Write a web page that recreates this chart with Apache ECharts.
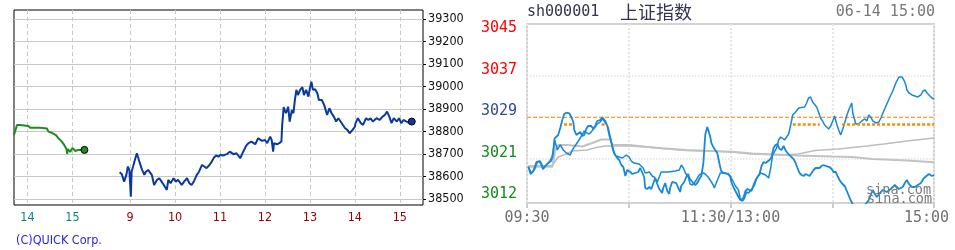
<!DOCTYPE html>
<html><head><meta charset="utf-8">
<script src="https://cdn.jsdelivr.net/npm/echarts@6.0.0/dist/echarts.min.js"></script>
<style>html,body{margin:0;padding:0;background:#fff}#c{width:955px;height:250px}</style>
</head><body><div id="c"></div><script>
// ---------- LEFT CHART (QUICK) ----------
// previous-day session (clock minutes since midnight) and index values
const leftPrevTimes = [822,826,830,841,844,857,866,868,873,878,881,885,889,892,893,894,897,900,904,908,910,916];
const leftPrevValues = [38784,38829,38829,38824,38816,38816,38813,38799,38793,38784,38771,38758,38740,38722,38700,38722,38709,38727,38713,38718,38722,38718];
// current-day session
const leftDayTimes = [526,529,532,535,537,539,541,542,544,547,549,551,553,556,559,561,564,569,572,576,579,582,585,589,591,594,598,601,604,609,612,616,619,622,625,629,632,636,639,642,646,649,652,655,658,661,664,669,673,678,682,687,691,695,698,702,707,711,716,720,723,727,729,731,732,736,739,742,743,744,745,748,751,753,756,758,760,762,764,767,770,772,775,778,780,782,784,787,790,792,796,799,801,803,806,809,812,815,818,821,824,827,830,833,837,840,841,844,848,851,855,858,861,864,869,873,877,880,883,886,889,892,896,899,902,905,909,912,916];
const leftDayValues = [38619,38610,38577,38607,38644,38629,38510,38621,38644,38681,38703,38681,38659,38629,38607,38621,38629,38607,38562,38585,38592,38577,38562,38540,38585,38570,38592,38577,38585,38562,38577,38592,38570,38562,38577,38607,38621,38651,38644,38637,38651,38666,38684,38693,38688,38696,38693,38699,38710,38699,38703,38681,38710,38737,38748,38755,38743,38770,38758,38762,38748,38777,38762,38710,38748,38743,38748,38755,38829,38866,38908,38881,38910,38844,38896,38881,38940,38985,38962,38985,38997,38962,38985,38955,38992,39021,38985,38988,38970,38940,38940,38918,38896,38873,38903,38881,38866,38844,38859,38844,38829,38814,38807,38792,38807,38821,38837,38859,38837,38829,38859,38851,38859,38844,38859,38851,38866,38873,38888,38866,38837,38859,38844,38859,38837,38851,38844,38839,38844];
const leftTickTimes = [840,900,540,600,660,720,780,840,900];
const leftTickDays = [-1,-1,0,0,0,0,0,0,0];
const leftTickLabels = ['14','15','9','10','11','12','13','14','15'];
const leftYTicks = [38500,38600,38700,38800,38900,39000,39100,39200,39300];

// ---------- RIGHT CHART (sina, sh000001) ----------
// minutes since 09:30 on the trading clock (0..240)
const prevClose = 3029;
const rightL1Times = [0.8,2.5,3.7,5.5,7.8,9.6,11.8,14.3,15.1,16.3,17.9,19.6,21.4,23.2,25.5,26.7,29.1,31.4,33.8,34.9,36.1,37.3,39.7,41.4,43.1,44.4,45.6,46.7,47.9,49.1,50.3,51.4,52.6,54.4,56.2,58.5,60.3,61.5,63.2,66.1,68.5,69.7,72.1,73.8,75.0,76.8,78.0,79.1,83.3,87.4,89.8,91.0,92.2,93.4,95.1,96.2,97.4,98.6,99.8,101.5,103.9,105.1,106.8,108.0,109.8,110.4,111.6,112.8,114.0,116.9,118.7,119.9,121.7,122.9,124.7,125.9,127.1,128.3,129.5,130.7,133.0,134.2,135.4,137.8,138.9,140.7,142.5,143.7,144.8,147.2,148.4,149.6,150.7,151.9,153.1,154.3,155.5,156.7,158.4,160.2,163.7,164.9,166.0,167.2,168.4,170.8,171.9,173.1,174.3,175.5,176.7,177.9,179.1,180.3,181.4,182.6,183.8,185.0,186.8,188.5,189.7,191.5,192.1,193.9,195.6,197.4,199.2,200.4,201.5,202.7,203.9,205.7,207.5,208.7,210.4,212.2,214.0,215.7,217.5,219.3,221.1,222.2,223.4,224.0,225.2,227.0,230.5,232.3,233.5,234.7,235.9,237.6,238.8,240];
const rightL1Values = [3019.36,3018.13,3018.52,3020.28,3020.47,3019.11,3019.83,3020.47,3021.31,3024.57,3022.62,3023.60,3022.62,3022.03,3021.64,3022.62,3023.79,3024.96,3026.33,3026.33,3025.74,3025.94,3026.91,3027.69,3028.08,3028.67,3028.28,3027.69,3026.91,3025.16,3023.21,3021.84,3021.45,3021.25,3021.06,3021.64,3021.25,3020.47,3020.08,3019.89,3019.11,3018.13,3018.33,3017.55,3017.35,3016.38,3017.35,3018.33,3018.33,3018.52,3018.72,3019.69,3019.11,3018.13,3017.35,3015.99,3015.79,3016.18,3016.77,3017.74,3018.13,3017.94,3017.35,3016.77,3015.79,3015.21,3016.18,3017.16,3018.13,3018.13,3017.94,3017.55,3016.38,3015.60,3014.82,3012.87,3012.67,3013.26,3014.43,3014.23,3015.21,3015.79,3017.16,3018.13,3017.74,3017.74,3017.16,3019.11,3021.64,3023.01,3024.57,3025.16,3024.96,3024.57,3025.16,3025.74,3027.50,3029.45,3030.03,3030.81,3031.01,3031.79,3032.77,3032.96,3031.99,3031.01,3030.03,3028.86,3028.28,3027.50,3027.11,3026.72,3027.30,3028.28,3029.25,3027.69,3026.52,3025.55,3027.30,3029.25,3030.42,3031.79,3029.84,3027.69,3027.69,3028.28,3028.67,3028.28,3029.45,3029.06,3028.28,3027.89,3028.08,3028.86,3030.23,3031.59,3032.96,3034.13,3035.69,3036.86,3036.86,3036.28,3035.30,3034.33,3033.74,3033.35,3032.96,3033.35,3034.13,3034.33,3033.74,3033.16,3032.77,3032.57];
const rightL2Times = [0.8,2.1,3.5,4.7,6.1,7.4,8.6,9.4,10.6,12.0,13.3,14.5,15.3,16.3,17.3,18.4,19.6,20.8,22.0,23.2,24.9,26.1,27.3,27.9,29.1,30.2,31.4,32.6,33.8,34.9,36.1,37.9,39.1,40.2,41.4,43.2,44.4,46.2,47.4,48.5,49.7,50.9,52.0,53.2,54.4,55.6,56.8,58.0,59.1,60.9,62.1,63.8,65.6,66.8,67.9,69.1,69.7,70.9,72.1,73.3,74.4,75.6,76.8,78.0,79.1,79.7,80.3,81.5,82.1,82.7,83.9,84.4,85.6,88.0,89.2,90.3,90.9,92.7,93.9,95.1,95.7,98.0,99.2,100.4,101.6,102.8,104.0,105.1,106.3,106.9,108.1,108.7,109.8,111.0,112.2,113.4,114.5,115.7,118.7,119.9,120.5,121.7,122.9,124.7,125.9,127.6,128.8,130.0,131.2,132.4,133.6,134.8,135.9,137.1,138.3,139.5,140.7,141.8,143.0,144.2,145.4,146.5,147.7,148.9,150.1,151.3,152.4,153.6,154.8,156.0,157.2,158.4,159.5,160.7,161.9,163.1,164.3,165.4,166.6,167.8,169.0,170.2,171.3,172.5,173.7,174.9,176.1,177.2,178.4,179.6,180.8,182.0,183.1,184.3,185.5,187.3,189.1,190.8,192.0,194.4,197.9,201.5,203.9,205.1,206.3,208.1,209.8,212.2,214.5,216.9,219.3,221.6,222.8,224.0,225.2,227.0,228.7,230.5,232.3,234.1,235.2,237.0,238.8,240];
const rightL2Values = [3019.36,3017.94,3018.39,3019.05,3020.34,3020.34,3019.69,3018.85,3019.36,3019.89,3020.34,3021.00,3021.98,3024.90,3024.57,3025.55,3026.91,3028.47,3029.64,3029.90,3029.78,3029.06,3028.08,3026.52,3025.55,3025.94,3026.13,3025.35,3025.55,3026.72,3027.30,3027.30,3026.72,3027.30,3028.28,3028.47,3029.00,3028.28,3027.30,3025.55,3024.18,3022.62,3021.64,3021.06,3020.67,3019.69,3019.30,3017.55,3018.72,3018.33,3017.94,3018.13,3018.33,3019.11,3019.11,3017.35,3015.21,3015.01,3015.40,3015.01,3015.21,3017.16,3015.99,3015.01,3014.62,3014.23,3015.21,3016.18,3015.40,3014.62,3014.04,3015.21,3016.38,3016.18,3015.21,3014.43,3015.60,3016.38,3017.35,3017.94,3017.16,3016.18,3015.79,3016.18,3016.96,3017.55,3020.08,3025.55,3027.11,3026.52,3025.16,3023.99,3023.21,3022.62,3022.03,3020.08,3018.52,3018.13,3017.94,3017.35,3016.38,3015.40,3014.62,3013.45,3012.87,3013.26,3014.62,3015.01,3014.82,3014.62,3015.79,3016.77,3017.16,3017.94,3019.50,3020.28,3020.08,3019.89,3020.67,3021.25,3023.01,3023.60,3023.79,3022.82,3022.62,3023.40,3022.62,3022.03,3021.64,3021.25,3020.86,3020.08,3019.11,3018.13,3017.74,3017.55,3017.94,3017.55,3017.55,3018.13,3018.72,3019.11,3019.30,3019.11,3019.50,3019.69,3019.50,3019.30,3019.30,3018.91,3018.33,3018.33,3017.55,3016.77,3016.18,3015.60,3014.23,3012.87,3012.08,3010.91,3011.30,3012.87,3014.82,3014.04,3013.45,3014.23,3014.82,3014.43,3015.01,3015.79,3015.01,3015.40,3016.18,3016.77,3015.99,3015.40,3015.40,3015.79,3016.18,3017.16,3017.55,3017.94,3017.55,3017.74];
const rightAvg1Times = [0.8,14.9,18.4,23.2,26.7,35.5,40.8,46.1,60.3,70.3,79.8,93.9,111.0,120.5,132.8,149.3,159.9,169.9,183.5,200.5,210.5,224.0,240];
const rightAvg1Values = [3019.50,3019.60,3021.25,3021.84,3022.43,3022.62,3023.11,3023.40,3023.40,3023.21,3022.91,3022.52,3022.37,3022.23,3021.84,3021.64,3021.84,3022.52,3022.82,3023.40,3023.79,3024.38,3024.96];
const rightAvg2Times = [0.8,14.9,16.7,18.4,23.7,32.6,38.5,43.8,49.1,50.3,60.3,70.3,79.8,93.9,121.0,132.8,159.9,179.9,191.7,203.5,224.0,240];
const rightAvg2Values = [3019.36,3019.36,3022.62,3023.60,3023.60,3023.30,3023.99,3024.67,3024.67,3023.60,3023.60,3023.26,3022.95,3022.62,3022.29,3021.94,3021.55,3021.35,3021.25,3020.86,3020.57,3020.22];
const frameBPrevClose = 3027.7;
const frameBSegments = [[21.8,26.7],[44.0,47.3],[156.7,172.6],[185.8,240]];
const rightTickMinutes = [0,60,120,180,240];
const rightLabelMinutes = [0,120,240];
const rightLabelTexts = ['09:30','11:30/13:00','15:00'];
const rightGridValues = [3037.06,3021.0];
const rightYLabelValues = [3045.2,3037.1,3029.0,3020.9,3012.8];
const rightYLabelTexts = ['3045','3037','3029','3021','3012'];

// ---------- helpers ----------
const PREV_OFFSET = 437; // previous session placed before today's on the chart timeline
const leftPos = (day, t) => day < 0 ? t - PREV_OFFSET : t;
const leftTickPos = leftTickTimes.map((t, i) => leftPos(leftTickDays[i], t));
const pairs = (xs, ys, f) => xs.slice(0, Math.min(xs.length, ys.length)).map((x, i) => [f ? f(x) : x, ys[i]]);
const findIdx = (arr, v) => arr.findIndex(a => Math.abs(a - Number(v)) < 1e-6);

const NARROW = "'Liberation Sans Narrow','DejaVu Sans Condensed','Liberation Sans',sans-serif";
const MONO = "'DejaVu Sans Mono','Liberation Mono',monospace";

const prevData = pairs(leftPrevTimes, leftPrevValues, t => leftPos(-1, t));
const dayData = pairs(leftDayTimes, leftDayValues, t => leftPos(0, t));

const chart = echarts.init(document.getElementById('c'), null, {renderer: 'canvas'});
chart.setOption({
  animation: false,
  title: [
    {text: '(C)QUICK Corp.', left: 16, top: 234, padding: 0,
     textStyle: {color: '#2424f0', fontSize: 12.5, fontWeight: 'normal', fontFamily: NARROW, lineHeight: 14}},
    {text: 'sh000001', left: 527, top: 4, padding: 0,
     textStyle: {color: '#333355', fontSize: 15, fontWeight: 'normal', fontFamily: MONO, lineHeight: 16}},
    {text: '上证指数', left: 620, top: 2, padding: 0,
     textStyle: {color: '#333355', fontSize: 18, fontWeight: 'normal', fontFamily: "'Noto Sans CJK SC'", lineHeight: 20}},
    {text: '06-14 15:00', right: 20, top: 4, padding: 0,
     textStyle: {color: '#777777', fontSize: 15, fontWeight: 'normal', fontFamily: MONO, lineHeight: 16}}
  ],
  graphic: [
    {type: 'text', left: 866, top: 183, z: 100, style: {text: 'sina.com', fill: '#7a7a7a', font: '13.5px "DejaVu Sans Mono"'}},
    {type: 'text', left: 867, top: 192, z: 100, style: {text: 'sina.com', fill: '#7a7a7a', font: '13.5px "DejaVu Sans Mono"'}}
  ],
  grid: [
    {left: 14, top: 10, width: 409, height: 195, show: true, borderColor: '#000', borderWidth: 1, backgroundColor: '#fff'},
    {left: 527, top: 24, width: 407, height: 179, show: true, borderColor: '#d2d2d2', borderWidth: 2, backgroundColor: '#fff'}
  ],
  xAxis: [
    {gridIndex: 0, type: 'value', min: 385, max: 931,
     axisLine: {show: false},
     axisTick: {show: false, customValues: leftTickPos},
     axisLabel: {customValues: leftTickPos, margin: 6, fontFamily: NARROW, fontSize: 12.5,
       formatter: v => { const i = findIdx(leftTickPos, v); return i >= 0 ? leftTickLabels[i] : ''; },
       color: (v) => { const i = findIdx(leftTickPos, v); return (i >= 0 && leftTickDays[i] < 0) ? '#0f7f7f' : '#9b0000'; }},
     splitLine: {show: true, lineStyle: {color: '#c8c8c8', width: 1, type: [4, 3]}}},
    {gridIndex: 1, type: 'value', min: 0, max: 240,
     axisLine: {show: false},
     axisTick: {show: true, customValues: rightTickMinutes, length: 5, lineStyle: {color: '#cccccc', width: 2}},
     axisLabel: {customValues: rightLabelMinutes, margin: 8, fontFamily: MONO, fontSize: 15, color: '#707070',
       formatter: v => { const i = findIdx(rightLabelMinutes, v); if (i < 0) return ''; return i === rightLabelMinutes.length - 1 ? '{e|' + rightLabelTexts[i] + '}' : rightLabelTexts[i]; },
       rich: {e: {padding: [0, 15, 0, 0], fontFamily: MONO, fontSize: 15, color: '#707070'}}},
     splitLine: {show: true, lineStyle: {color: '#e6e6e6', width: 2, type: 'dotted'}}}
  ],
  yAxis: [
    {gridIndex: 0, type: 'value', position: 'right', min: 38473, max: 39340,
     axisLine: {show: false},
     axisTick: {show: true, customValues: leftYTicks, length: 3, lineStyle: {color: '#000'}},
     axisLabel: {customValues: leftYTicks, margin: 5, fontFamily: NARROW, fontSize: 12.5, color: '#111',
       formatter: v => String(Math.round(Number(v)))},
     splitLine: {show: true, lineStyle: {color: '#c8c8c8', width: 1}}},
    {gridIndex: 1, type: 'value', position: 'left', min: 3012.28, max: 3047.2,
     axisLine: {show: false},
     axisTick: {show: false, customValues: rightGridValues},
     axisLabel: {customValues: rightYLabelValues, margin: 10, fontFamily: MONO, fontSize: 15,
       verticalAlign: 'bottom', lineHeight: 12,
       formatter: v => { const i = findIdx(rightYLabelValues, v); return i >= 0 ? rightYLabelTexts[i] : ''; },
       color: v => { const n = Number(v); return n > prevClose + 0.01 ? '#ff0000' : (n < prevClose - 0.01 ? '#15891a' : '#2f4a9a'); }},
     splitLine: {show: true, lineStyle: {color: '#e2e2e2', width: 1.5, type: 'dotted'}}}
  ],
  series: [
    {type: 'line', xAxisIndex: 0, yAxisIndex: 0, data: prevData, showAllSymbol: true, symbol: 'circle',
     symbolSize: (v, p) => p.dataIndex === prevData.length - 1 ? 7 : 0,
     lineStyle: {color: '#1f8c1f', width: 2}, itemStyle: {color: '#1f8c1f', borderColor: '#000', borderWidth: 1}, z: 3},
    {type: 'line', xAxisIndex: 0, yAxisIndex: 0, data: dayData, showAllSymbol: true, symbol: 'circle',
     symbolSize: (v, p) => p.dataIndex === dayData.length - 1 ? 7 : 0,
     lineStyle: {color: '#0b3a9e', width: 2}, itemStyle: {color: '#0b3a9e', borderColor: '#000', borderWidth: 1}, z: 3},
    // previous close reference line (frame A)
    {type: 'line', xAxisIndex: 1, yAxisIndex: 1, data: [[0, prevClose], [240, prevClose]], showSymbol: false, silent: true,
     lineStyle: {color: '#ff8000', width: 1, type: [4, 2]}, z: 2},
    {type: 'line', xAxisIndex: 1, yAxisIndex: 1, data: pairs(rightAvg1Times, rightAvg1Values), showSymbol: false,
     lineStyle: {color: '#bdbdbd', width: 1.5}, z: 2,
     markLine: {silent: true, symbol: ['none', 'none'], label: {show: false},
       lineStyle: {color: '#ff8a00', width: 2.5, type: [3, 2]},
       data: frameBSegments.map(s => [{coord: [s[0], frameBPrevClose]}, {coord: [s[1], frameBPrevClose]}])}},
    {type: 'line', xAxisIndex: 1, yAxisIndex: 1, data: pairs(rightAvg2Times, rightAvg2Values), showSymbol: false,
     lineStyle: {color: '#c2c2c2', width: 2}, z: 2},
    {type: 'line', xAxisIndex: 1, yAxisIndex: 1, data: pairs(rightL1Times, rightL1Values), showSymbol: false,
     lineStyle: {color: '#1789d6', width: 1.5}, z: 3},
    {type: 'line', xAxisIndex: 1, yAxisIndex: 1, data: pairs(rightL2Times, rightL2Values), showSymbol: false,
     lineStyle: {color: '#1789d6', width: 1.8}, z: 3}
  ]
});
</script></body></html>
